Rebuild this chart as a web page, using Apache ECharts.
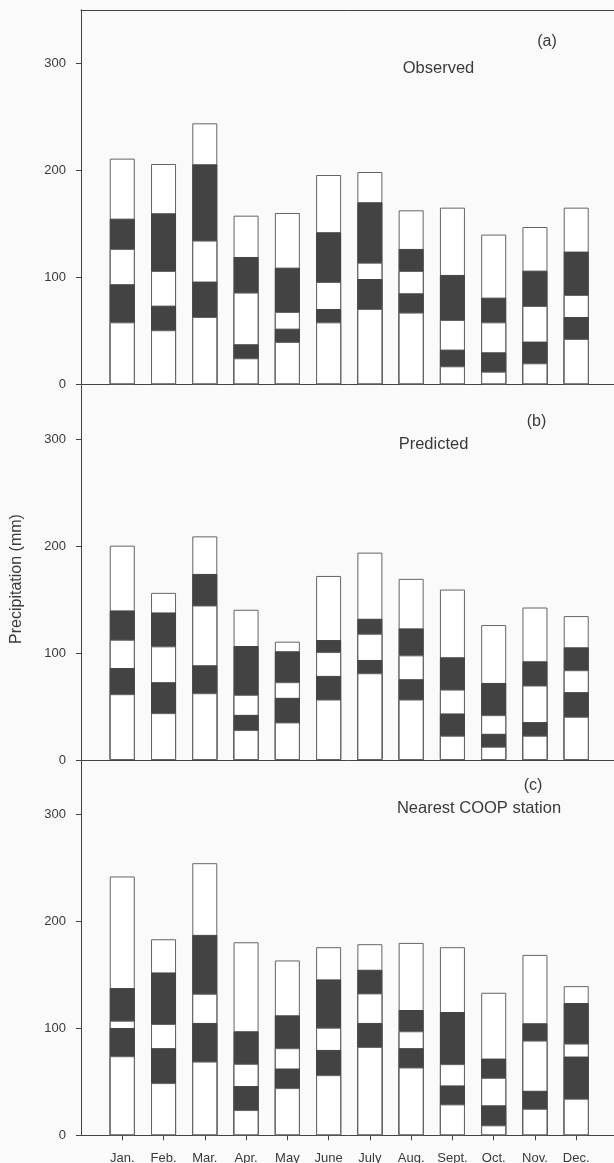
<!DOCTYPE html>
<html>
<head>
<meta charset="utf-8">
<script src="https://cdn.jsdelivr.net/npm/echarts@6/dist/echarts.min.js"></script>
<style>html,body{margin:0;padding:0;background:#fafafa}#chart{width:614px;height:1163px}</style>
</head>
<body>
<div id="chart"></div>
<script>
// Categories
var months = ['Jan.','Feb.','Mar.','Apr.','May','June','July','Aug.','Sept.','Oct.','Nov.','Dec.'];
var yTicks = [0, 100, 200, 300];
var panelTitles = ['Observed', 'Predicted', 'Nearest COOP station'];
var panelTags = ['(a)', '(b)', '(c)'];

// (a) Observed: cumulative boundary levels (bottom to top)
var obsL1 = [57.9, 50.5, 62.9, 24.3, 39.6, 57.9, 70.4, 67.0, 16.8, 11.8, 19.6, 42.4];
var obsL2 = [93.5, 73.5, 96.0, 37.4, 52.0, 70.4, 98.4, 85.0, 32.4, 29.9, 39.9, 62.9];
var obsL3 = [126.5, 105.9, 134.3, 85.7, 67.6, 95.6, 113.7, 105.9, 60.1, 57.9, 73.2, 83.5];
var obsL4 = [154.8, 159.8, 205.6, 119.0, 109.0, 142.1, 170.1, 126.5, 102.2, 81.0, 106.2, 124.0];
var obsL5 = [210.9, 205.9, 243.9, 157.6, 160.1, 195.6, 198.4, 162.6, 165.1, 139.9, 147.0, 165.1];

// (b) Predicted
var preL1 = [61.5, 43.8, 62.4, 28.0, 35.1, 56.5, 81.1, 56.5, 22.7, 12.4, 22.7, 40.4];
var preL2 = [86.0, 72.7, 88.5, 42.2, 58.1, 78.6, 93.5, 75.5, 43.5, 24.5, 35.4, 63.4];
var preL3 = [112.4, 106.2, 144.4, 60.9, 72.7, 100.9, 118.0, 97.8, 65.8, 41.9, 69.6, 83.9];
var preL4 = [139.8, 137.9, 173.9, 106.5, 101.6, 112.1, 132.0, 123.0, 96.0, 72.0, 92.2, 105.3];
var preL5 = [200.3, 156.2, 209.0, 140.4, 110.6, 172.0, 193.8, 169.3, 159.3, 126.1, 142.5, 134.5];

// (c) Nearest COOP station
var coopL1 = [73.9, 48.8, 68.9, 23.6, 44.1, 56.2, 82.6, 63.4, 28.9, 9.3, 24.8, 34.2];
var coopL2 = [100.3, 81.4, 105.0, 46.0, 62.4, 79.8, 105.0, 81.4, 46.6, 28.0, 41.6, 73.6];
var coopL3 = [107.1, 104.0, 132.3, 66.8, 81.4, 100.6, 132.6, 97.2, 66.5, 53.7, 88.5, 85.7];
var coopL4 = [137.6, 152.2, 187.3, 97.2, 112.1, 145.7, 154.7, 117.1, 115.2, 71.7, 104.7, 123.6];
var coopL5 = [241.9, 183.2, 254.3, 180.4, 163.4, 175.8, 178.6, 179.8, 175.8, 133.2, 168.6, 139.4];

var panels = [
  [obsL1, obsL2, obsL3, obsL4, obsL5],
  [preL1, preL2, preL3, preL4, preL5],
  [coopL1, coopL2, coopL3, coopL4, coopL5]
];

var FONT = "'Liberation Sans', Arial, sans-serif";
var TXT = '#3a3a3a';
var AX = '#444444';
var DARK = '#434343';
var WHITE = '#ffffff';
var EDGE = '#646464';

var gridTops = [9.8, 385.5, 760.8];
var gridH = 374.5;
var monthPos = months.map(function(m, i){ return i + 1; });

var grids = [], xAxes = [], yAxes = [], series = [], graphics = [];

gridTops.forEach(function(top, p){
  grids.push({left: 81, right: -3.5, top: top, height: gridH, containLabel: false, outerBoundsMode: 'none'});
  var isBottom = p === 2;
  xAxes.push({
    type: 'value', gridIndex: p, min: 0, max: 13, interval: 1,
    splitLine: {show: false},
    axisLine: {show: true, lineStyle: {color: AX, width: 1}},
    axisTick: {show: isBottom, length: 5, customValues: monthPos, lineStyle: {color: AX}},
    axisLabel: {show: isBottom, customValues: monthPos, margin: 17, fontFamily: FONT, fontSize: 13, color: TXT,
      formatter: function(v){ return months[Math.round(v) - 1] || ''; }}
  });
  yAxes.push({
    type: 'value', gridIndex: p, min: 0, max: 350, interval: 100,
    splitLine: {show: false},
    axisLine: {show: true, lineStyle: {color: AX, width: 1}},
    axisTick: {show: true, length: 5, customValues: yTicks, lineStyle: {color: AX}},
    axisLabel: {customValues: yTicks, margin: 15, fontFamily: FONT, fontSize: 13, color: TXT}
  });
  var L = panels[p];
  // draw tallest level first, each lower level overlaid on top (alternating white / dark)
  for (var s = 4; s >= 0; s--) {
    var data = months.map(function(m, i){ return [i + 1, L[s][i]]; });
    var dark = (s % 2) === 1;
    series.push({
      type: 'bar', xAxisIndex: p, yAxisIndex: p,
      barWidth: 25, barGap: '-100%', data: data, silent: true, z: 2 + (4 - s),
      itemStyle: {color: dark ? DARK : WHITE, borderColor: dark ? DARK : EDGE, borderWidth: 1}
    });
  }
});

// top frame line of the first panel
xAxes.push({
  type: 'value', gridIndex: 0, position: 'top', min: 0, max: 13,
  splitLine: {show: false}, axisTick: {show: false}, axisLabel: {show: false},
  axisLine: {show: true, lineStyle: {color: AX, width: 1}}
});

var tagPos = [[547, 42], [536.5, 422], [533, 786]];
var titlePos = [[438.5, 68.5], [433.5, 444], [479, 808.5]];
for (var p = 0; p < 3; p++) {
  graphics.push({type: 'text', x: tagPos[p][0], y: tagPos[p][1],
    style: {text: panelTags[p], font: '16px ' + FONT, fill: TXT, align: 'center', verticalAlign: 'middle'}});
  graphics.push({type: 'text', x: titlePos[p][0], y: titlePos[p][1],
    style: {text: panelTitles[p], font: '16.5px ' + FONT, fill: TXT, align: 'center', verticalAlign: 'middle'}});
}
graphics.push({type: 'text', x: 17, y: 579, rotation: Math.PI / 2,
  style: {text: 'Precipitation (mm)', font: '16px ' + FONT, fill: TXT, align: 'center', verticalAlign: 'middle'}});

var chart = echarts.init(document.getElementById('chart'), null, {renderer: 'canvas'});
chart.setOption({
  backgroundColor: '#fafafa',
  animation: false,
  grid: grids,
  xAxis: xAxes,
  yAxis: yAxes,
  series: series,
  graphic: graphics
});
</script>
</body>
</html>
